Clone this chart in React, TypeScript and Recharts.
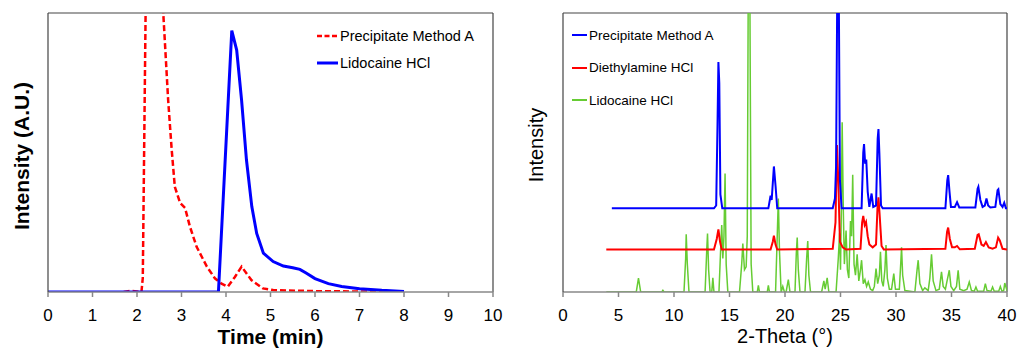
import { Label, Legend, Line, LineChart, ReferenceLine, XAxis, YAxis } from "recharts";

const FONT = "'Liberation Sans', Arial, sans-serif";

const timeTicks = [0, 1, 2, 3, 4, 5, 6, 7, 8, 9, 10];
const thetaTicks = [0, 5, 10, 15, 20, 25, 30, 35, 40];

// HPLC traces: [time (min), intensity]
const precipitateHplc: [number, number][] = [
  [1.7, 0], [1.85, 0.4], [2.0, 0.2], [2.1, 0], [2.13, 5], [2.2, 110], [2.35, 180],
  [2.5, 130], [2.59, 100], [2.7, 68.8], [2.78, 50.9], [2.85, 37.7], [2.97, 31.9],
  [3.08, 30.1], [3.19, 23.4], [3.34, 16.2], [3.57, 9.1], [3.75, 4.9], [3.9, 3],
  [4.04, 1.9], [4.2, 5.4], [4.35, 9.1], [4.57, 4.3], [4.83, 1.3], [5.06, 0.7],
  [6.0, 0.3], [7.0, 0.2], [8.0, 0],
];

const lidocaineHplc: [number, number][] = [
  [0, 0], [3.83, 0], [4.13, 93.7], [4.24, 86.7], [4.35, 68.8], [4.46, 47.3],
  [4.58, 30.6], [4.69, 21], [4.84, 13.9], [5.06, 10.9], [5.29, 9.3], [5.5, 8.7],
  [5.66, 8.1], [5.8, 6.8], [6.0, 4.8], [6.3, 3], [6.6, 2], [7.0, 1.2], [7.5, 0.6],
  [8.0, 0.2],
];

// XRD patterns (stacked): [2-theta, intensity]
const precipitateXrd: [number, number][] = [
  [4.4, 30], [13.6, 30], [13.8, 31], [13.92, 60], [14.0, 82.4], [14.08, 75], [14.18, 35],
  [14.35, 30], [18.5, 30], [18.7, 34.5], [18.8, 33], [19.0, 45], [19.15, 38], [19.3, 30],
  [24.3, 30], [24.5, 33.5], [24.6, 45], [24.72, 115], [24.85, 105], [24.95, 40], [25.1, 30],
  [26.9, 30], [27.05, 50], [27.12, 53], [27.22, 46], [27.32, 47.5], [27.45, 36], [27.6, 30.5],
  [27.8, 35.3], [27.95, 30.5], [28.2, 31], [28.35, 55], [28.42, 58.4], [28.5, 50], [28.65, 31],
  [28.8, 30], [34.45, 30], [34.62, 40], [34.7, 41.9], [34.82, 36], [34.95, 30.5], [35.3, 30.5],
  [35.5, 32.2], [35.7, 30.3], [37.15, 30.3], [37.35, 37], [37.42, 37.7], [37.6, 33], [37.8, 30.5],
  [38.0, 31], [38.15, 33.5], [38.3, 31], [38.5, 30.3], [38.95, 30.5], [39.15, 36.5], [39.22, 36.8],
  [39.4, 31.5], [39.6, 30.5], [39.75, 32], [39.9, 30], [40, 30],
];

const diethylamineXrd: [number, number][] = [
  [3.9, 15.2], [13.6, 15.2], [13.85, 19], [14.0, 22.4], [14.15, 18], [14.3, 15.2],
  [18.7, 15.2], [18.9, 18], [19.0, 20.2], [19.15, 17], [19.3, 15.2], [24.3, 15.5], [24.55, 25],
  [24.68, 52.7], [24.8, 40], [24.95, 18], [25.2, 16], [25.5, 15.2], [26.8, 15.5], [26.95, 25],
  [27.05, 27.3], [27.18, 24], [27.3, 25.1], [27.45, 20], [27.6, 17], [27.9, 16], [28.2, 17],
  [28.33, 30], [28.42, 33.9], [28.52, 28], [28.7, 16.5], [28.9, 15.2], [34.45, 15.5], [34.6, 21.5],
  [34.7, 23.1], [34.85, 19], [35.05, 16], [35.3, 16], [35.5, 16.5], [35.75, 15.3], [37.1, 15.5],
  [37.35, 20.5], [37.45, 20.7], [37.7, 17], [37.9, 16.5], [38.1, 17.9], [38.35, 16], [38.7, 15.5],
  [39.0, 16], [39.2, 19.5], [39.35, 18.5], [39.6, 15.5], [40, 15.2],
];

const lidocaineXrd: [number, number][] = [
  [3.9, 0], [6.6, 0], [6.8, 5], [7.0, 0], [8.9, 0], [9.0, 0.6], [9.1, 0], [10.9, 0], [11.05, 12],
  [11.1, 20.7], [11.2, 10], [11.35, 0], [12.8, 0], [12.95, 15], [13.02, 21], [13.12, 8], [13.25, 0],
  [13.4, 0], [13.5, 5.1], [13.6, 0], [14.05, 0], [14.2, 15], [14.3, 24], [14.4, 12], [14.5, 20],
  [14.6, 42.5], [14.7, 10], [14.85, 0], [15.9, 0], [16.1, 10], [16.2, 17.4], [16.35, 8], [16.5, 9],
  [16.6, 20], [16.72, 140], [16.82, 120], [16.95, 10], [17.1, 0], [17.5, 0], [17.6, 2.4], [17.7, 0],
  [18.4, 0], [18.5, 2.4], [18.6, 0], [19.15, 0], [19.3, 20], [19.4, 33.5], [19.5, 15], [19.65, 0],
  [19.8, 2], [19.95, 0], [20.1, 0], [20.3, 4.4], [20.45, 0], [20.9, 0], [21.02, 14], [21.1, 19.5],
  [21.2, 8], [21.35, 0], [21.8, 0], [21.95, 12], [22.05, 18.3], [22.15, 6], [22.3, 0], [23.3, 0],
  [23.5, 4], [23.62, 1], [23.8, 5.1], [23.95, 0], [24.6, 0], [24.8, 12], [24.92, 21], [25.0, 8],
  [25.08, 30], [25.15, 60.8], [25.25, 30], [25.35, 10], [25.5, 22], [25.62, 8], [25.75, 5],
  [25.9, 25.4], [26.0, 20], [26.1, 42], [26.22, 10], [26.35, 6], [26.5, 13.5], [26.65, 4], [26.8, 8],
  [26.9, 11.4], [27.05, 3], [27.2, 4.4], [27.35, 2], [27.5, 3.6], [27.7, 1], [27.9, 0.5], [28.05, 2],
  [28.2, 8.4], [28.35, 3], [28.5, 6], [28.6, 14.4], [28.72, 4], [28.85, 2], [29.0, 8], [29.1, 16.8],
  [29.22, 5], [29.4, 1], [29.6, 1], [29.8, 6.6], [29.95, 1], [30.3, 1], [30.45, 12], [30.5, 16],
  [30.6, 6], [30.8, 0.5], [31.7, 0], [31.9, 8], [32.0, 11.4], [32.15, 3], [32.4, 0.5], [32.6, 1.5],
  [32.9, 0.5], [33.05, 5], [33.2, 13.5], [33.35, 4], [33.6, 0.5], [33.9, 1], [34.1, 7.2], [34.25, 2],
  [34.45, 1], [34.6, 4], [34.8, 7.8], [34.95, 2], [35.2, 0.5], [35.45, 2], [35.6, 7.8], [35.75, 1],
  [36.1, 0.5], [36.4, 1], [36.6, 3.6], [36.8, 0.5], [37.05, 0.3], [37.2, 1.8], [37.35, 0.3],
  [37.9, 0.3], [38.05, 3], [38.2, 0.5], [38.55, 0.3], [38.7, 1.8], [38.85, 0.3], [39.25, 0.3],
  [39.4, 2], [39.55, 0.3], [39.7, 0.5], [39.8, 3.2], [40, 0.5],
];

const toRows = (pts: [number, number][]) => pts.map(([x, y]) => ({ x, y }));

type LegendItem = { name: string; color: string; width: number; dash?: string };

const hplcLegend: LegendItem[] = [
  { name: "Precipitate Method A", color: "#ff0000", width: 2.5, dash: "5 2.5" },
  { name: "Lidocaine HCl", color: "#0000ff", width: 3 },
];

const xrdLegend: LegendItem[] = [
  { name: "Precipitate Method A", color: "#0000ff", width: 2 },
  { name: "Diethylamine HCl", color: "#ff0000", width: 2 },
  { name: "Lidocaine HCl", color: "#66cc33", width: 2 },
];

function LegendBox({
  items,
  lineW,
  rowH,
  fontSize,
}: {
  items: LegendItem[];
  lineW: number;
  rowH: number;
  fontSize: number;
}) {
  return (
    <div style={{ fontFamily: FONT, fontSize, color: "#000" }}>
      {items.map((it) => (
        <div key={it.name} style={{ display: "flex", alignItems: "center", height: rowH }}>
          <svg width={lineW} height={6} style={{ display: "block" }}>
            <line x1={0} y1={3} x2={lineW} y2={3} stroke={it.color} strokeWidth={it.width} strokeDasharray={it.dash} />
          </svg>
          <span style={{ marginLeft: 2, whiteSpace: "nowrap" }}>{it.name}</span>
        </div>
      ))}
    </div>
  );
}

const tickStyle = { fill: "#000", fontSize: 17, fontFamily: FONT };

export default function App() {
  return (
    <div style={{ position: "absolute", left: 0, top: 0, width: 1019, height: 348, background: "#fff", display: "flex" }}>
      <LineChart width={510} height={348} margin={{ top: 13, right: 17, bottom: 0, left: 0 }}>
        <XAxis
          type="number"
          dataKey="x"
          domain={[0, 10]}
          ticks={timeTicks}
          allowDataOverflow
          height={56}
          tickSize={5}
          tickMargin={12}
          axisLine={{ stroke: "#888", strokeWidth: 1.5 }}
          tickLine={{ stroke: "#888", strokeWidth: 1.5 }}
          tick={tickStyle}
        >
          <Label
            content={() => (
              <text x={270.5} y={344} textAnchor="middle" fontFamily={FONT} fontSize={21} fontWeight="bold" fill="#000">
                Time (min)
              </text>
            )}
          />
        </XAxis>
        <YAxis
          type="number"
          domain={[0, 100]}
          allowDataOverflow
          width={48}
          tick={false}
          tickLine={false}
          axisLine={{ stroke: "#444", strokeWidth: 1.2 }}
        >
          <Label
            content={() => (
              <text transform="translate(29,156) rotate(-90)" textAnchor="middle" fontFamily={FONT} fontSize={21} fontWeight="bold" fill="#000">
                Intensity (A.U.)
              </text>
            )}
          />
        </YAxis>
        <ReferenceLine y={100} stroke="#444" strokeWidth={1.2} />
        <ReferenceLine x={10} stroke="#444" strokeWidth={1.2} />
        <Legend
          layout="vertical"
          align="center"
          verticalAlign="middle"
          wrapperStyle={{ left: 317, top: 22.5, width: "auto", height: "auto" }}
          content={() => <LegendBox items={hplcLegend} lineW={21} rowH={27} fontSize={14.5} />}
        />
        <Line
          data={toRows(precipitateHplc)}
          dataKey="y"
          name="Precipitate Method A"
          type="linear"
          stroke="#ff0000"
          strokeWidth={2.5}
          strokeDasharray="6 3"
          dot={false}
          isAnimationActive={false}
        />
        <Line
          data={toRows(lidocaineHplc)}
          dataKey="y"
          name="Lidocaine HCl"
          type="linear"
          stroke="#0000ff"
          strokeWidth={3}
          dot={false}
          isAnimationActive={false}
        />
      </LineChart>

      <LineChart width={509} height={348} margin={{ top: 13, right: 12, bottom: 0, left: 0 }}>
        <XAxis
          type="number"
          dataKey="x"
          domain={[0, 40]}
          ticks={thetaTicks}
          allowDataOverflow
          height={56}
          tickSize={5}
          tickMargin={12}
          axisLine={{ stroke: "#888", strokeWidth: 1.5 }}
          tickLine={{ stroke: "#888", strokeWidth: 1.5 }}
          tick={tickStyle}
        >
          <Label
            content={() => (
              <text x={275} y={343} textAnchor="middle" fontFamily={FONT} fontSize={20} fill="#000">
                2-Theta (°)
              </text>
            )}
          />
        </XAxis>
        <YAxis
          type="number"
          domain={[0, 100]}
          allowDataOverflow
          width={53}
          tick={false}
          tickLine={false}
          axisLine={{ stroke: "#444", strokeWidth: 1.2 }}
        >
          <Label
            content={() => (
              <text transform="translate(33,145) rotate(-90)" textAnchor="middle" fontFamily={FONT} fontSize={20} fill="#000">
                Intensity
              </text>
            )}
          />
        </YAxis>
        <ReferenceLine y={100} stroke="#444" strokeWidth={1.2} />
        <ReferenceLine x={40} stroke="#444" strokeWidth={1.2} />
        <Legend
          layout="vertical"
          align="center"
          verticalAlign="middle"
          wrapperStyle={{ left: 62, top: 18.75, width: "auto", height: "auto" }}
          content={() => <LegendBox items={xrdLegend} lineW={15} rowH={32.5} fontSize={13.5} />}
        />
        <Line
          data={toRows(lidocaineXrd)}
          dataKey="y"
          name="Lidocaine HCl"
          type="linear"
          stroke="#66cc33"
          strokeWidth={1.5}
          dot={false}
          isAnimationActive={false}
        />
        <Line
          data={toRows(diethylamineXrd)}
          dataKey="y"
          name="Diethylamine HCl"
          type="linear"
          stroke="#ff0000"
          strokeWidth={2}
          dot={false}
          isAnimationActive={false}
        />
        <Line
          data={toRows(precipitateXrd)}
          dataKey="y"
          name="Precipitate Method A"
          type="linear"
          stroke="#0000ff"
          strokeWidth={2}
          dot={false}
          isAnimationActive={false}
        />
      </LineChart>
    </div>
  );
}
